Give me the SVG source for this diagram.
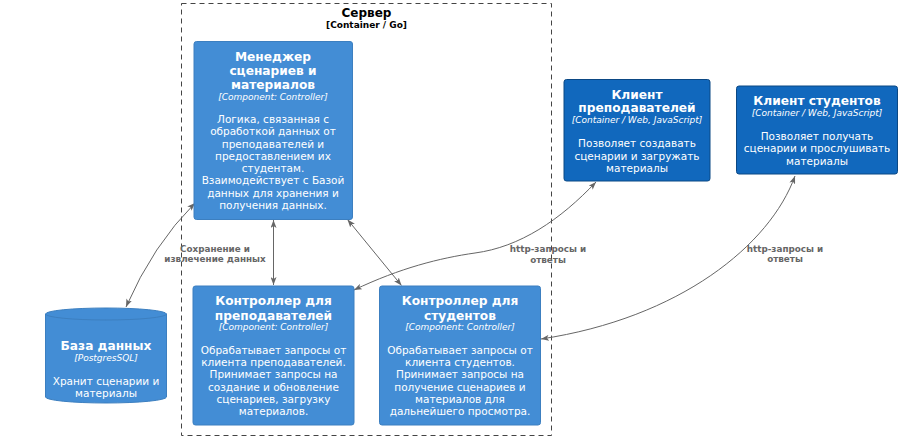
<svg xmlns="http://www.w3.org/2000/svg" width="917" height="446" viewBox="0 0 917 446">
<defs>
<style>
text{font-family:"DejaVu Sans","Noto Sans",sans-serif;text-anchor:middle}
.t{font-size:12.2px;font-weight:bold;fill:#fff}
.s{font-size:9px;font-style:italic;fill:#fff}
.d{font-size:10.5px;fill:#fff}
.comp{fill:#438DD5;stroke:#3C7FC0;stroke-width:1}
.cont{fill:#1168BD;stroke:#0B4884;stroke-width:1}
.edge{fill:none;stroke:#666;stroke-width:1;marker-start:url(#arr);marker-end:url(#arr)}
.el{font-size:8.8px;font-weight:bold;fill:#666}
.bt{font-size:12px;font-weight:bold;fill:#000}
.bs{font-size:9px;font-weight:bold;fill:#000}
</style>
<marker id="arr" viewBox="0 0 8 6" refX="8" refY="3" markerWidth="8" markerHeight="6" orient="auto-start-reverse" markerUnits="userSpaceOnUse">
<path d="M0,0 L8,3 L0,6 L2,3 Z" fill="#666"/>
</marker>
</defs>
<rect width="917" height="446" fill="#fff"/>

<g id="boundary-server">
<rect x="181.5" y="3.5" width="370" height="432" fill="none" stroke="#444" stroke-width="1" stroke-dasharray="5,4"/>
<text class="bt" x="366.5" y="16.5">Сервер</text>
<text class="bs" x="366.5" y="27.5">[Container / Go]</text>
</g>

<g id="connectors">
<path class="edge" d="M195,203 Q153,245 126,307"/>
<text class="el" x="215" y="251.5">Сохранение и</text>
<text class="el" x="215" y="262">извлечение данных</text>
<path class="edge" d="M273.5,220 L273.5,285"/>
<path class="edge" d="M347.5,219.5 L401.5,285.5"/>
<path class="edge" d="M354,290 C400,268 440,258 475,253 C520,247 560,220 596,182"/>
<text class="el" x="548" y="252">http-запросы и</text>
<text class="el" x="548" y="262.5">ответы</text>
<path class="edge" d="M541,339 C680,318 770,245 795,176"/>
<text class="el" x="785" y="251.5">http-запросы и</text>
<text class="el" x="785" y="262">ответы</text>
</g>

<g id="manager">
<rect class="comp" x="194" y="41.5" width="158.5" height="178" rx="2.5"/>
<text class="t" x="273" y="61">Менеджер</text>
<text class="t" x="273" y="75">сценариев и</text>
<text class="t" x="273" y="88.5">материалов</text>
<text class="s" x="273" y="100">[Component: Controller]</text>
<text class="d" x="273" y="123">Логика, связанная с</text>
<text class="d" x="273" y="135.3">обработкой данных от</text>
<text class="d" x="273" y="147.5">преподавателей и</text>
<text class="d" x="273" y="159.8">предоставлением их</text>
<text class="d" x="273" y="172">студентам.</text>
<text class="d" x="273" y="184.3">Взаимодействует с Базой</text>
<text class="d" x="273" y="196.5">данных для хранения и</text>
<text class="d" x="273" y="208.8">получения данных.</text>
</g>

<g id="client-teachers">
<rect class="cont" x="564" y="79.5" width="146" height="101.5" rx="2.5"/>
<text class="t" x="637" y="98.5">Клиент</text>
<text class="t" x="637" y="112">преподавателей</text>
<text class="s" x="637" y="122.7">[Container / Web, JavaScript]</text>
<text class="d" x="637" y="147.4">Позволяет создавать</text>
<text class="d" x="637" y="159.7">сценарии и загружать</text>
<text class="d" x="637" y="172">материалы</text>
</g>

<g id="client-students">
<rect class="cont" x="736.5" y="86" width="161" height="88" rx="2.5"/>
<text class="t" x="817" y="105.2">Клиент студентов</text>
<text class="s" x="817" y="116">[Container / Web, JavaScript]</text>
<text class="d" x="817" y="140">Позволяет получать</text>
<text class="d" x="817" y="152.3">сценарии и прослушивать</text>
<text class="d" x="817" y="164.6">материалы</text>
</g>

<g id="database">
<path class="comp" d="M45.5,314 A60.5,6 0 0 1 166.5,314 L166.5,397 A60.5,6 0 0 1 45.5,397 Z"/>
<path d="M45.5,314 A60.5,6 0 0 0 166.5,314" fill="none" stroke="#3C7FC0" stroke-width="1"/>
<text class="t" x="106" y="350.2">База данных</text>
<text class="s" x="106" y="361">[PostgresSQL]</text>
<text class="d" x="106" y="385.4">Хранит сценарии и</text>
<text class="d" x="106" y="397.3">материалы</text>
</g>

<g id="teacher-controller">
<rect class="comp" x="193" y="286" width="161" height="139" rx="2.5"/>
<text class="t" x="273.5" y="305.2">Контроллер для</text>
<text class="t" x="273.5" y="319.5">преподавателей</text>
<text class="s" x="273.5" y="330.3">[Component: Controller]</text>
<text class="d" x="273.5" y="353.7">Обрабатывает запросы от</text>
<text class="d" x="273.5" y="366">клиента преподавателей.</text>
<text class="d" x="273.5" y="378.3">Принимает запросы на</text>
<text class="d" x="273.5" y="390.6">создание и обновление</text>
<text class="d" x="273.5" y="402.9">сценариев, загрузку</text>
<text class="d" x="273.5" y="415.2">материалов.</text>
</g>

<g id="student-controller">
<rect class="comp" x="379.5" y="286" width="161" height="139" rx="2.5"/>
<text class="t" x="460" y="305.2">Контроллер для</text>
<text class="t" x="460" y="319.5">студентов</text>
<text class="s" x="460" y="330.3">[Component: Controller]</text>
<text class="d" x="460" y="353.7">Обрабатывает запросы от</text>
<text class="d" x="460" y="366">клиента студентов.</text>
<text class="d" x="460" y="378.3">Принимает запросы на</text>
<text class="d" x="460" y="390.6">получение сценариев и</text>
<text class="d" x="460" y="402.9">материалов для</text>
<text class="d" x="460" y="415.2">дальнейшего просмотра.</text>
</g>
</svg>
